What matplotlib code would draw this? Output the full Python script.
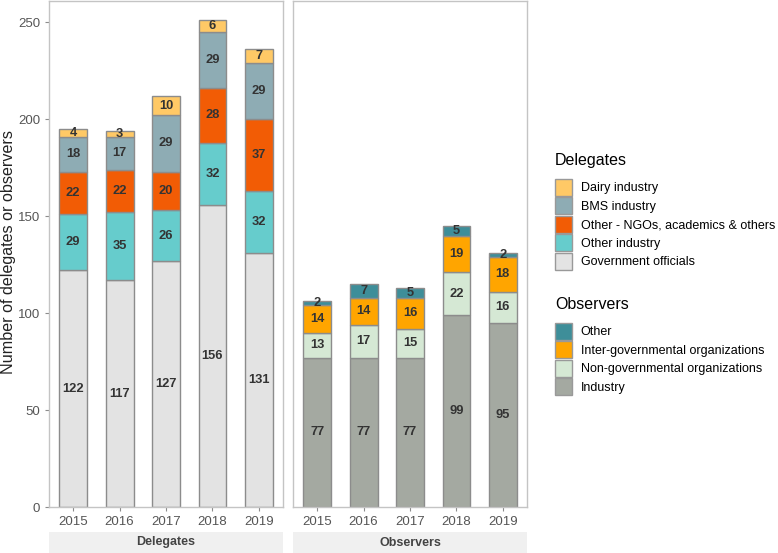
import numpy as np
import matplotlib.pyplot as plt
from matplotlib.patches import Patch

plt.rcParams['font.family'] = ['Liberation Sans', 'DejaVu Sans']

years = ['2015', '2016', '2017', '2018', '2019']

# Delegates (bottom to top)
del_names = ['Government officials', 'Other industry', 'Other - NGOs, academics & others',
             'BMS industry', 'Dairy industry']
del_values = [
    [122, 117, 127, 156, 131],
    [29, 35, 26, 32, 32],
    [22, 22, 20, 28, 37],
    [18, 17, 29, 29, 29],
    [4, 3, 10, 6, 7],
]
del_colors = ['#e3e3e3', '#66cccc', '#f25c05', '#8eacb4', '#ffc966']

# Observers (bottom to top)
obs_names = ['Industry', 'Non-governmental organizations', 'Inter-governmental organizations', 'Other']
obs_values = [
    [77, 77, 77, 99, 95],
    [13, 17, 15, 22, 16],
    [14, 14, 16, 19, 18],
    [2, 7, 5, 5, 2],
]
obs_colors = ['#a4a9a1', '#d5e8d4', '#ffa500', '#3e8e99']

W, H = 778, 553
fig = plt.figure(figsize=(W / 100, H / 100), dpi=100)

def px_axes(x0, y0, x1, y1):
    return fig.add_axes([x0 / W, 1 - y1 / H, (x1 - x0) / W, (y1 - y0) / H])

ax1 = px_axes(49, 1, 283, 507)
ax2 = px_axes(293, 1, 527, 507)

def draw_stack(ax, values, colors):
    x = np.arange(len(years))
    bottom = np.zeros(len(years))
    for vals, col in zip(values, colors):
        vals = np.array(vals)
        ax.bar(x, vals, bottom=bottom, width=0.6, color=col, edgecolor='#8c8c8c', linewidth=1.0)
        for xi, b, v in zip(x, bottom, vals):
            ax.text(xi, b + v / 2, str(v), ha='center', va='center', fontsize=9.3,
                    fontweight='bold', color='#333333')
        bottom += vals
    ax.set_xlim(-0.52, len(years) - 0.48)
    ax.set_ylim(0, 261)
    ax.set_xticks(x)
    ax.set_xticklabels(years)
    for s in ax.spines.values():
        s.set_color('#c4c4c4')
        s.set_linewidth(1.0)
    ax.tick_params(colors='#8c8c8c', labelcolor='#555555', labelsize=9.5, length=3)

draw_stack(ax1, del_values, del_colors)
draw_stack(ax2, obs_values, obs_colors)
ax1.set_yticks([0, 50, 100, 150, 200, 250])
ax2.set_yticks([])
fig.text(1 / W, 1 - 252 / H, 'Number of delegates or observers', rotation=90,
         ha='left', va='center', fontsize=11.6, color='#222222')

# facet strips
for (x0, x1), lab in [((49, 283), 'Delegates'), ((293, 527), 'Observers')]:
    sax = px_axes(x0, 532, x1, 553)
    sax.set_facecolor('#f0f0f0')
    sax.set_xticks([])
    sax.set_yticks([])
    for s in sax.spines.values():
        s.set_visible(False)
    sax.text(0.5, 0.5, lab, ha='center', va='center', fontsize=9, fontweight='bold',
             color='#444444', transform=sax.transAxes)

def make_legend(names, colors, title, top_px):
    handles = [Patch(facecolor=c, edgecolor='#999999', linewidth=1.0, label=n)
               for n, c in zip(names, colors)]
    leg = fig.legend(handles=handles[::-1], title=title, loc='upper left',
                     bbox_to_anchor=(551 / W, 1 - top_px / H), frameon=False,
                     fontsize=9, title_fontsize=11.5, handlelength=1.36, handleheight=1.71,
                     handletextpad=0.72, labelspacing=0.12, borderpad=0.3, borderaxespad=0)
    leg._legend_box.align = 'left'
    leg._legend_box.sep = 8
    return leg

make_legend(del_names, del_colors, 'Delegates', 149)
make_legend(obs_names, obs_colors, 'Observers', 293)

fig.savefig('out.png', dpi=100)
